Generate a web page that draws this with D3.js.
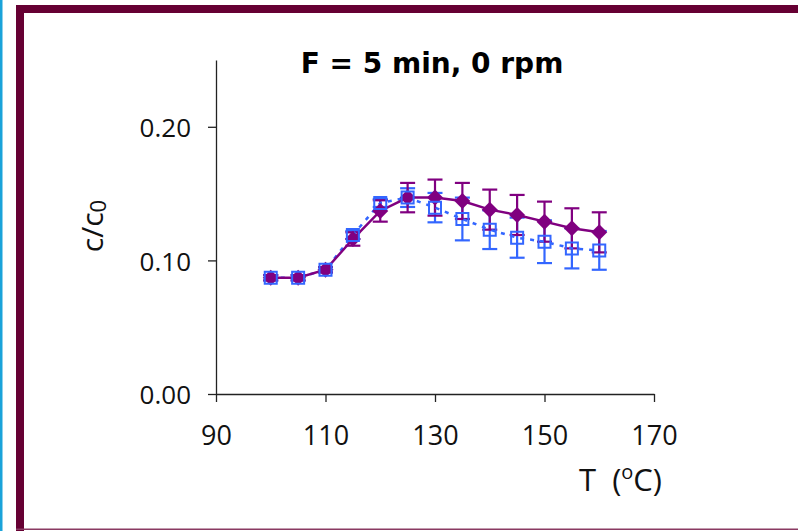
<!DOCTYPE html>
<html><head><meta charset="utf-8">
<script src="https://cdn.jsdelivr.net/npm/d3@7"></script>
<style>body{margin:0;background:#fff}svg{display:block}</style>
</head><body>
<svg id="c" width="798" height="531"></svg>
<script>
const temps = [100,105,110,115,120,125,130,135,140,145,150,155,160];
const seriesA = [0.087,0.087,0.093,0.116,0.137,0.147,0.147,0.1445,0.138,0.134,0.129,0.124,0.121];
const errA    = [0.002,0.002,0.002,0.005,0.008,0.011,0.0135,0.0135,0.015,0.015,0.015,0.015,0.015];
const seriesB = [0.087,0.087,0.093,0.119,0.143,0.147,0.1395,0.131,0.123,0.117,0.114,0.109,0.1075];
const errB    = [0.002,0.002,0.002,0.003,0.003,0.007,0.011,0.016,0.0145,0.015,0.016,0.015,0.0145];
const xTicks = [90,110,130,150,170];
const yTicks = [0,0.1,0.2];
const titleText = "F = 5 min, 0 rpm";

const svg = d3.select('#c');
const FONT = '"Open Sans", Roboto, sans-serif';
const TFONT = 'DejaVu Sans, Verdana, sans-serif';
const PURPLE = '#800080', BLUE = '#3366FF', MAROON = '#660033';

// frame
svg.append('rect').attr('x',0).attr('y',0).attr('width',2.5).attr('height',531).attr('fill','#1AA3DA');
svg.append('rect').attr('x',16).attr('y',5).attr('width',8).attr('height',526).attr('fill',MAROON);
svg.append('rect').attr('x',16).attr('y',5).attr('width',782).attr('height',8).attr('fill',MAROON);
svg.append('rect').attr('x',16).attr('y',528.5).attr('width',782).attr('height',1.5).attr('fill','#8a3a62');

const x = d3.scaleLinear().domain([90,170]).range([216,654]);
const y = d3.scaleLinear().domain([0,0.25]).range([394,60]);

// axes
const gx = svg.append('g').attr('transform',`translate(0,${y(0)})`)
  .call(d3.axisBottom(x).tickValues(xTicks).tickSize(8).tickSizeOuter(0).tickPadding(24).tickFormat(d3.format('d')));
const gy = svg.append('g').attr('transform',`translate(${x(90)},0)`)
  .call(d3.axisLeft(y).tickValues(yTicks).tickSize(8).tickSizeOuter(0).tickPadding(17).tickFormat(d3.format('.2f')));
[gx,gy].forEach(g=>{
  g.selectAll('path,line').attr('stroke','#222').attr('stroke-width',1.3);
  g.selectAll('text').attr('font-family',FONT).attr('font-size',26).attr('fill','#111');
});
gx.selectAll('text').attr('font-size',27).attr('dy','0.71em');
gy.selectAll('text').attr('dy','0.37em');

// error bars
function errBars(vals, errs, color){
  const g = svg.append('g').attr('stroke',color).attr('stroke-width',2.2);
  temps.forEach((t,i)=>{
    const cx = x(t), y1 = y(vals[i]+errs[i]), y2 = y(vals[i]-errs[i]);
    g.append('line').attr('x1',cx).attr('x2',cx).attr('y1',y1).attr('y2',y2);
    g.append('line').attr('x1',cx-7.5).attr('x2',cx+7.5).attr('y1',y1).attr('y2',y1);
    g.append('line').attr('x1',cx-7.5).attr('x2',cx+7.5).attr('y1',y2).attr('y2',y2);
  });
}
errBars(seriesB, errB, BLUE);
errBars(seriesA, errA, PURPLE);

// lines
const line = d3.line().x((d,i)=>x(temps[i])).y(d=>y(d));
svg.append('path').datum(seriesB).attr('d',line).attr('fill','none')
  .attr('stroke',BLUE).attr('stroke-width',2.5).attr('stroke-dasharray','4,6');
svg.append('path').datum(seriesA).attr('d',line).attr('fill','none')
  .attr('stroke',PURPLE).attr('stroke-width',2.5);

// markers
const diamond = 'M0,-8L8,0L0,8L-8,0Z';
svg.append('g').selectAll('path').data(seriesA).join('path')
  .attr('d',diamond).attr('transform',(d,i)=>`translate(${x(temps[i])},${y(d)})`)
  .attr('fill',PURPLE);
svg.append('g').selectAll('path').data(seriesB).join('path')
  .attr('d',d3.symbol(d3.symbolSquare,144)).attr('transform',(d,i)=>`translate(${x(temps[i])},${y(d)})`)
  .attr('fill','none').attr('stroke',BLUE).attr('stroke-width',2);

// title
svg.append('text').attr('x',432).attr('y',73).attr('text-anchor','middle')
  .attr('font-family',TFONT).attr('font-weight','bold').attr('font-size',28).attr('fill','#000')
  .text(titleText);

// y label c/c0
const yl = svg.append('text').attr('transform','translate(103,226) rotate(-90)')
  .attr('text-anchor','middle').attr('font-family',FONT).attr('font-size',30).attr('fill','#111');
yl.append('tspan').text('c/c');
yl.append('tspan').attr('font-size',22).attr('dy',3).text('0');

// x label T (°C)
const xl = svg.append('text').attr('x',662).attr('y',491).attr('text-anchor','end')
  .attr('font-family',FONT).attr('font-size',31).attr('fill','#111').style('white-space','pre');
xl.append('tspan').text('T  (');
xl.append('tspan').attr('font-size',20).attr('dy',-12).text('o');
xl.append('tspan').attr('dy',12).text('C)');
</script>
</body></html>
